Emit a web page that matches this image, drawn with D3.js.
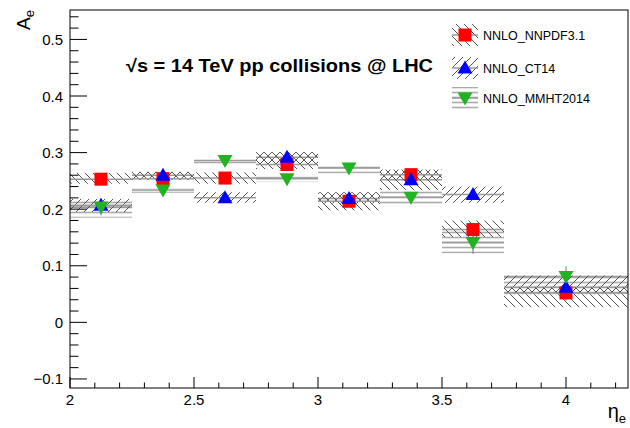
<html>
<head>
<script src="https://d3js.org/d3.v7.min.js"></script>
<style>
  body { margin: 0; background: #fff; }
  text { font-family: "Liberation Sans", Arial, sans-serif; }
</style>
</head>
<body>
<script>

// bin edges in eta_e and series values
var binEdges = [2.0, 2.25, 2.5, 2.75, 3.0, 3.25, 3.5, 3.75, 4.25];

var nnpdf    = [0.253, 0.254, 0.255, 0.279, 0.214, 0.261, 0.164, 0.052];
var nnpdfErr = [0.006, 0.006, 0.006, 0.007, 0.008, 0.008, 0.012, 0.014];
var nnpdfLo  = [0.245, 0.252, 0.245, 0.271, 0.198, 0.234, 0.151, 0.027];
var nnpdfHi  = [0.264, 0.266, 0.265, 0.301, 0.230, 0.270, 0.180, 0.062];

var ct14     = [0.207, 0.260, 0.220, 0.292, 0.219, 0.252, 0.226, 0.062];
var ct14Err  = [0.006, 0.006, 0.006, 0.007, 0.008, 0.008, 0.010, 0.014];
var ct14Lo   = [0.195, 0.252, 0.211, 0.278, 0.210, 0.251, 0.211, 0.051];
var ct14Hi   = [0.218, 0.266, 0.230, 0.301, 0.230, 0.270, 0.240, 0.083];

var mmht     = [0.204, 0.234, 0.286, 0.254, 0.273, 0.221, 0.141, 0.081];
var mmhtErr  = [0.015, 0.008, 0.006, 0.007, 0.008, 0.008, 0.020, 0.018];
var mmhtLo   = [0.185, 0.229, 0.280, 0.248, 0.263, 0.205, 0.122, 0.051];
var mmhtHi   = [0.216, 0.237, 0.288, 0.258, 0.279, 0.235, 0.163, 0.080];

var xTicks = [2, 2.5, 3, 3.5, 4];
var yTicks = [-0.1, 0, 0.1, 0.2, 0.3, 0.4, 0.5];

var legendNames = ["NNLO_NNPDF3.1", "NNLO_CT14", "NNLO_MMHT2014"];

var W = 630, H = 428;
var frame = {left: 70, right: 628, top: 10, bottom: 388};

var svg = d3.select("body").append("svg")
            .attr("width", W)
            .attr("height", H);

var x = d3.scaleLinear().domain([2, 4.25]).range([frame.left, frame.right]);
var y = d3.scaleLinear().domain([-0.116, 0.552]).range([frame.bottom, frame.top]);

// hatch patterns (ROOT style 3005, 3004, 3007-ish)
var defs = svg.append("defs");
var pDesc = defs.append("pattern").attr("id", "hDesc")
    .attr("patternUnits", "userSpaceOnUse").attr("width", 8).attr("height", 8);
pDesc.append("path").attr("d", "M0,0 L8,8 M-2,6 L2,10 M6,-2 L10,2")
    .attr("stroke", "#555").attr("stroke-width", 1);
var pAsc = defs.append("pattern").attr("id", "hAsc")
    .attr("patternUnits", "userSpaceOnUse").attr("width", 8).attr("height", 8);
pAsc.append("path").attr("d", "M0,8 L8,0 M-2,2 L2,-2 M6,10 L10,6")
    .attr("stroke", "#555").attr("stroke-width", 1);
var pHor = defs.append("pattern").attr("id", "hHor")
    .attr("patternUnits", "userSpaceOnUse").attr("width", 8).attr("height", 5);
pHor.append("path").attr("d", "M0,2.5 L8,2.5")
    .attr("stroke", "#aaa").attr("stroke-width", 1.6);

var series = [
  {vals: nnpdf, err: nnpdfErr, lo: nnpdfLo, hi: nnpdfHi, fill: "url(#hDesc)", color: "#ff0000", shape: "square"},
  {vals: ct14,  err: ct14Err,  lo: ct14Lo,  hi: ct14Hi,  fill: "url(#hAsc)",  color: "#0000ff", shape: "up"},
  {vals: mmht,  err: mmhtErr,  lo: mmhtLo,  hi: mmhtHi,  fill: "url(#hHor)",  color: "#22b322", shape: "down"}
];

var bins = d3.range(nnpdf.length);
function mid(i) { return (binEdges[i] + binEdges[i + 1]) / 2; }

// bands, drawn back to front
[2, 1, 0].forEach(function(k) {
  var s = series[k];
  svg.append("g").selectAll("rect")
     .data(bins)
     .enter().append("rect")
     .attr("x", function(i) { return x(binEdges[i]); })
     .attr("width", function(i) { return x(binEdges[i + 1]) - x(binEdges[i]); })
     .attr("y", function(i) { return y(s.hi[i]); })
     .attr("height", function(i) { return y(s.lo[i]) - y(s.hi[i]); })
     .attr("fill", s.fill);
  svg.append("g").selectAll("line")
     .data(bins)
     .enter().append("line")
     .attr("x1", function(i) { return x(binEdges[i]); })
     .attr("x2", function(i) { return x(binEdges[i + 1]); })
     .attr("y1", function(i) { return y(s.vals[i]); })
     .attr("y2", function(i) { return y(s.vals[i]); })
     .attr("stroke", "#999").attr("stroke-width", 1.5);
});

function markerPath(shape, cx, cy) {
  if (shape === "square") return "M" + (cx - 6.5) + "," + (cy - 6.5) + "h13v13h-13z";
  if (shape === "up") return "M" + cx + "," + (cy - 7.5) + "L" + (cx + 7.5) + "," + (cy + 5.5) + "L" + (cx - 7.5) + "," + (cy + 5.5) + "z";
  return "M" + cx + "," + (cy + 7.5) + "L" + (cx + 7.5) + "," + (cy - 5.5) + "L" + (cx - 7.5) + "," + (cy - 5.5) + "z";
}

// error bars + markers
series.forEach(function(s) {
  svg.append("g").selectAll("line")
     .data(bins)
     .enter().append("line")
     .attr("x1", function(i) { return x(mid(i)); })
     .attr("x2", function(i) { return x(mid(i)); })
     .attr("y1", function(i) { return y(s.vals[i] - s.err[i]); })
     .attr("y2", function(i) { return y(s.vals[i] + s.err[i]); })
     .attr("stroke", "#777").attr("stroke-width", 1);
});
series.forEach(function(s) {
  svg.append("g").selectAll("path")
     .data(bins)
     .enter().append("path")
     .attr("d", function(i) { return markerPath(s.shape, x(mid(i)), y(s.vals[i])); })
     .attr("fill", s.color);
});

// frame
svg.append("rect")
   .attr("x", frame.left).attr("y", frame.top)
   .attr("width", frame.right - frame.left).attr("height", frame.bottom - frame.top)
   .attr("fill", "none").attr("stroke", "#000").attr("stroke-width", 1);

// x ticks (inside)
var xMinor = d3.range(20, 43).map(function(v) { return v / 10; });
svg.append("g").selectAll("line")
   .data(xMinor)
   .enter().append("line")
   .attr("x1", function(d) { return x(d); }).attr("x2", function(d) { return x(d); })
   .attr("y1", frame.bottom)
   .attr("y2", function(d) { return frame.bottom - (Math.abs(d * 2 - Math.round(d * 2)) < 1e-6 ? 11 : 5.5); })
   .attr("stroke", "#000");
svg.append("g").selectAll("text")
   .data(xTicks)
   .enter().append("text")
   .attr("x", function(d) { return x(d); })
   .attr("y", 405)
   .attr("text-anchor", "middle")
   .attr("font-size", 15)
   .text(function(d) { return d; });

// y ticks (inside)
var yMinor = d3.range(-5, 28).map(function(v) { return v / 50; });
svg.append("g").selectAll("line")
   .data(yMinor)
   .enter().append("line")
   .attr("y1", function(d) { return y(d); }).attr("y2", function(d) { return y(d); })
   .attr("x1", frame.left)
   .attr("x2", function(d) { return frame.left + (Math.abs(d * 10 - Math.round(d * 10)) < 1e-6 ? 17 : 8.5); })
   .attr("stroke", "#000");
svg.append("g").selectAll("text")
   .data(yTicks)
   .enter().append("text")
   .attr("x", 63)
   .attr("y", function(d) { return y(d) + 5.5; })
   .attr("text-anchor", "end")
   .attr("font-size", 15)
   .text(function(d) { return d < 0 ? "\u2212" + Math.abs(d) : d; });

// axis titles
var yt = svg.append("text")
   .attr("transform", "translate(30,10) rotate(-90)")
   .attr("text-anchor", "end")
   .attr("font-size", 19);
yt.append("tspan").text("A");
yt.append("tspan").attr("font-size", 13).attr("dy", 4).text("e");

var xt = svg.append("text")
   .attr("x", 626).attr("y", 418)
   .attr("text-anchor", "end")
   .attr("font-size", 20);
xt.append("tspan").text("\u03b7");
xt.append("tspan").attr("font-size", 13).attr("dy", 5).text("e");

// annotation
svg.append("text")
   .attr("x", 126).attr("y", 72)
   .attr("font-size", 18)
   .attr("font-weight", "bold")
   .attr("textLength", 307)
   .attr("lengthAdjust", "spacingAndGlyphs")
   .text("\u221as = 14 TeV pp collisions @ LHC");

// legend
var legY = [35, 68, 98];
series.forEach(function(s, k) {
  var g = svg.append("g");
  g.append("rect")
   .attr("x", 452).attr("y", legY[k] - 11)
   .attr("width", 26).attr("height", 22)
   .attr("fill", s.fill);
  g.append("line")
   .attr("x1", 452).attr("x2", 478)
   .attr("y1", legY[k]).attr("y2", legY[k])
   .attr("stroke", "#999").attr("stroke-width", 1.5);
  g.append("path")
   .attr("d", markerPath(s.shape, 465, legY[k]))
   .attr("fill", s.color);
  g.append("text")
   .attr("x", 483).attr("y", legY[k] + 4.5)
   .attr("font-size", 12.5)
   .text(legendNames[k]);
});

</script>
</body>
</html>
